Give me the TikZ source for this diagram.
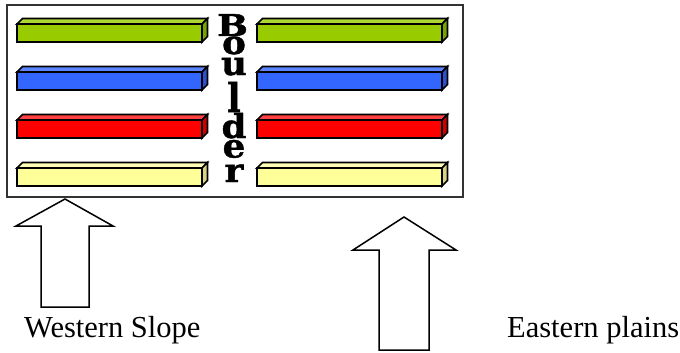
\documentclass[tikz,border=0pt]{standalone}
\usepackage{fontspec}
\setmainfont{Liberation Serif}
\newfontfamily\slabfont{DejaVu Serif}[BoldFeatures={FakeBold=1.3}]
\definecolor{barGreen}{HTML}{99CC00}
\definecolor{barGreenTop}{HTML}{ADD633}
\definecolor{barGreenSide}{HTML}{7AA300}
\definecolor{barBlue}{HTML}{3366FF}
\definecolor{barBlueTop}{HTML}{5C85FF}
\definecolor{barBlueSide}{HTML}{2952CC}
\definecolor{barRed}{HTML}{FF0000}
\definecolor{barRedTop}{HTML}{FF4040}
\definecolor{barRedSide}{HTML}{CC0000}
\definecolor{barYellow}{HTML}{FFFF99}
\definecolor{barYellowTop}{HTML}{FFFFB8}
\definecolor{barYellowSide}{HTML}{D6D680}
\tikzset{
  edgeline/.style={draw=black, line width=1.7pt, line join=miter},
  frame/.style={draw=black!80, line width=1.6pt},
  bigarrow/.style={draw=black, line width=1.5pt, fill=white, line join=miter},
  caption/.style={font=\fontsize{30.5}{36}\selectfont, anchor=base west, inner sep=0pt},
  letter/.style={font=\slabfont\bfseries\fontsize{30}{30}\selectfont, anchor=base, inner sep=0pt, xscale=1.22},
  smallletter/.style={font=\slabfont\bfseries\fontsize{33}{33}\selectfont, anchor=base, inner sep=0pt, xscale=1.08}
}
% draw a 3D bar: #1 left x, #2 top y, #3 front colour, #4 top colour, #5 side colour
\newcommand\slabbar[5]{%
  \filldraw[edgeline, fill=#4] (#1,#2) -- ++(5.5,-5.5) -- ++(185,0) -- ++(-5.5,5.5) -- cycle;
  \filldraw[edgeline, fill=#5] (#1+185,#2) -- ++(5.5,-5.5) -- ++(0,18) -- ++(-5.5,5.5) -- cycle;
  \filldraw[edgeline, fill=#3] (#1,#2) rectangle ++(185,18);
}
\begin{document}
\begin{tikzpicture}[x=1pt, y=-1pt]
\useasboundingbox (0,0) rectangle (680,353);
% city frame
\draw[frame] (7,5) rectangle (463,197);
% west side bars
\slabbar{17}{24}{barGreen}{barGreenTop}{barGreenSide}
\slabbar{17}{72}{barBlue}{barBlueTop}{barBlueSide}
\slabbar{17}{120}{barRed}{barRedTop}{barRedSide}
\slabbar{17}{168}{barYellow}{barYellowTop}{barYellowSide}
% east side bars
\slabbar{257}{24}{barGreen}{barGreenTop}{barGreenSide}
\slabbar{257}{72}{barBlue}{barBlueTop}{barBlueSide}
\slabbar{257}{120}{barRed}{barRedTop}{barRedSide}
\slabbar{257}{168}{barYellow}{barYellowTop}{barYellowSide}
% vertical name
\node[letter] (lB) at (232.5,36) {B};
\node[smallletter] (lo) at (234,54) {o};
\node[smallletter] (lu) at (234,75) {u};
\node[smallletter, yscale=1.2] (ll) at (234,112) {l};
\node[smallletter] (ld) at (234,138) {d};
\node[smallletter] (le) at (234,157.5) {e};
\node[smallletter] (lr) at (234,182) {r};
% block arrows
\draw[bigarrow] (65,199) -- (113,226) -- (89,226) -- (89,307) -- (41,307) -- (41,226) -- (16,226) -- cycle;
\draw[bigarrow] (404,217) -- (456,250) -- (429,250) -- (429,350) -- (379,350) -- (379,250) -- (353,250) -- cycle;
% labels
\node[caption] (west) at (24,337) {Western Slope};
\node[caption] (east) at (507,337) {Eastern plains};
\end{tikzpicture}
\end{document}
